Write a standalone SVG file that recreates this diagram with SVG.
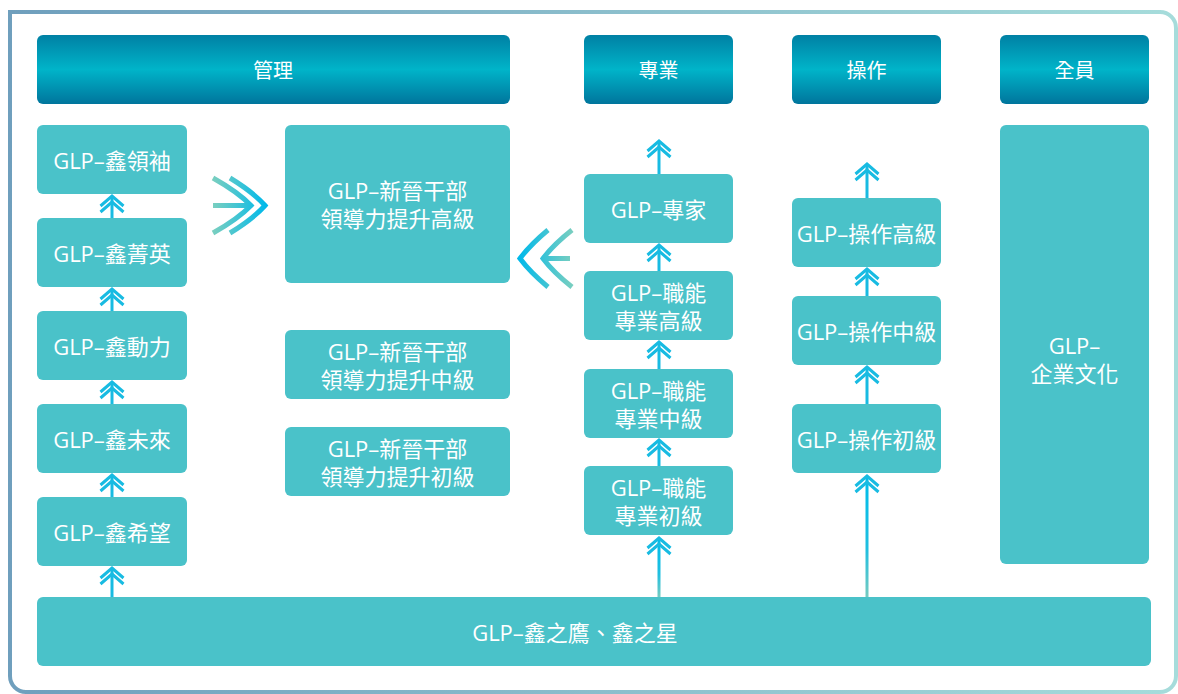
<svg xmlns="http://www.w3.org/2000/svg" xmlns:xlink="http://www.w3.org/1999/xlink" width="1178" height="694" viewBox="0 0 1178 694">
<defs>
<style>
.node{fill:#4ac2c9}
.t{fill:#fff;font-family:"Open Sans","Noto Sans CJK TC",sans-serif;font-size:22px;text-anchor:middle;dominant-baseline:central}
.h{fill:#fff;font-family:"Noto Sans CJK TC",sans-serif;font-size:20px;text-anchor:middle;dominant-baseline:central}
.stem{stroke:#18bbe2;stroke-width:3;fill:none}
.chev{stroke:#18bbe2;stroke-width:3;fill:none}
.big{fill:none;stroke-width:5}
</style>
<linearGradient id="frame" x1="0" y1="0" x2="1" y2="0">
<stop offset="0" stop-color="#6f9fbd"/>
<stop offset="1" stop-color="#a6dcdb"/>
</linearGradient>
<linearGradient id="head" x1="0" y1="0" x2="0" y2="1">
<stop offset="0" stop-color="#0080a4"/>
<stop offset="0.5" stop-color="#00b4c9"/>
<stop offset="1" stop-color="#00759c"/>
</linearGradient>
<linearGradient id="rgt" x1="212" y1="0" x2="266" y2="0" gradientUnits="userSpaceOnUse">
<stop offset="0" stop-color="#7ccfbf"/>
<stop offset="1" stop-color="#00b9ea"/>
</linearGradient>
<linearGradient id="lft" x1="574" y1="0" x2="519" y2="0" gradientUnits="userSpaceOnUse">
<stop offset="0" stop-color="#7ccfbf"/>
<stop offset="1" stop-color="#00b9ea"/>
</linearGradient>
<linearGradient id="vg" x1="0" y1="0" x2="0" y2="1">
<stop offset="0" stop-color="#00bdea"/>
<stop offset="0.6" stop-color="#20bfe0"/>
<stop offset="1" stop-color="#76cbc0"/>
</linearGradient>
<path id="ch" d="M-11.5,10 L0,0 L11.5,10 M-11.5,16 L0,6 L11.5,16" class="chev"/>
</defs>

<path d="M10,12 H1160 A16,16 0 0 1 1176,28 V676 A16,16 0 0 1 1160,692 H26 A16,16 0 0 1 10,676 Z" fill="#fff" stroke="url(#frame)" stroke-width="4"/>

<g id="headers">
<g id="h-mgmt"><rect x="37" y="35" width="473" height="69" rx="6" fill="url(#head)"/><text class="h" x="273" y="69">管理</text></g>
<g id="h-pro"><rect x="584" y="35" width="149" height="69" rx="6" fill="url(#head)"/><text class="h" x="658.5" y="69">專業</text></g>
<g id="h-op"><rect x="792" y="35" width="149" height="69" rx="6" fill="url(#head)"/><text class="h" x="866.5" y="69">操作</text></g>
<g id="h-all"><rect x="1000" y="35" width="149" height="69" rx="6" fill="url(#head)"/><text class="h" x="1074.5" y="69">全員</text></g>
</g>

<g id="connectors">
<line class="stem" x1="112" y1="198" x2="112" y2="218"/><use href="#ch" x="112" y="196"/>
<line class="stem" x1="112" y1="291" x2="112" y2="311"/><use href="#ch" x="112" y="289"/>
<line class="stem" x1="112" y1="384" x2="112" y2="404"/><use href="#ch" x="112" y="382"/>
<line class="stem" x1="112" y1="477" x2="112" y2="497"/><use href="#ch" x="112" y="475"/>
<line class="stem" x1="112" y1="570" x2="112" y2="597"/><use href="#ch" x="112" y="568"/>

<line class="stem" x1="659" y1="143" x2="659" y2="174"/><use href="#ch" x="659" y="141"/>
<line class="stem" x1="659" y1="247" x2="659" y2="271"/><use href="#ch" x="659" y="245"/>
<line class="stem" x1="659" y1="344" x2="659" y2="369"/><use href="#ch" x="659" y="342"/>
<line class="stem" x1="659" y1="442" x2="659" y2="466"/><use href="#ch" x="659" y="440"/>
<rect x="657.5" y="540" width="3" height="57" fill="url(#vg)"/><use href="#ch" x="659" y="538"/>

<line class="stem" x1="867" y1="166" x2="867" y2="198"/><use href="#ch" x="867" y="164"/>
<line class="stem" x1="867" y1="271" x2="867" y2="296"/><use href="#ch" x="867" y="269"/>
<line class="stem" x1="867" y1="369" x2="867" y2="404"/><use href="#ch" x="867" y="367"/>
<rect x="865.5" y="478" width="3" height="119" fill="url(#vg)"/><use href="#ch" x="867" y="476"/>

<g id="bigR" class="big" stroke="url(#rgt)">
<line x1="213" y1="205.5" x2="250" y2="205.5"/>
<path d="M213,178 Q238,192 251,205.5 Q238,219 213,233"/>
<path d="M230,178 Q253,192 265,205.5 Q253,219 230,233"/>
</g>
<g id="bigL" class="big" stroke="url(#lft)">
<line x1="570" y1="258.5" x2="543" y2="258.5"/>
<path d="M548,230 Q530,245 520,258.5 Q530,272 548,287"/>
<path d="M572,230 Q553,245 543,258.5 Q553,272 572,287"/>
</g>
</g>

<g id="n-lead"><rect class="node" x="37" y="125" width="150" height="69" rx="6"/><text class="t" x="112" y="159.5">GLP–鑫領袖</text></g>
<g id="n-elite"><rect class="node" x="37" y="218" width="150" height="69" rx="6"/><text class="t" x="112" y="252.5">GLP–鑫菁英</text></g>
<g id="n-power"><rect class="node" x="37" y="311" width="150" height="69" rx="6"/><text class="t" x="112" y="345.5">GLP–鑫動力</text></g>
<g id="n-future"><rect class="node" x="37" y="404" width="150" height="69" rx="6"/><text class="t" x="112" y="438.5">GLP–鑫未來</text></g>
<g id="n-hope"><rect class="node" x="37" y="497" width="150" height="69" rx="6"/><text class="t" x="112" y="531.5">GLP–鑫希望</text></g>

<g id="n-new-hi"><rect class="node" x="285" y="125" width="225" height="158" rx="6"/><text class="t" x="397.5" y="189.5">GLP–新晉干部</text><text class="t" x="397.5" y="217.5">領導力提升高級</text></g>
<g id="n-new-mid"><rect class="node" x="285" y="330" width="225" height="69" rx="6"/><text class="t" x="397.5" y="350.5">GLP–新晉干部</text><text class="t" x="397.5" y="378.5">領導力提升中級</text></g>
<g id="n-new-lo"><rect class="node" x="285" y="427" width="225" height="69" rx="6"/><text class="t" x="397.5" y="447.5">GLP–新晉干部</text><text class="t" x="397.5" y="475.5">領導力提升初級</text></g>

<g id="n-expert"><rect class="node" x="584" y="174" width="149" height="69" rx="6"/><text class="t" x="658.5" y="208.5">GLP–專家</text></g>
<g id="n-pro-hi"><rect class="node" x="584" y="271" width="149" height="69" rx="6"/><text class="t" x="658.5" y="291.5">GLP–職能</text><text class="t" x="658.5" y="319.5">專業高級</text></g>
<g id="n-pro-mid"><rect class="node" x="584" y="369" width="149" height="69" rx="6"/><text class="t" x="658.5" y="389.5">GLP–職能</text><text class="t" x="658.5" y="417.5">專業中級</text></g>
<g id="n-pro-lo"><rect class="node" x="584" y="466" width="149" height="69" rx="6"/><text class="t" x="658.5" y="486.5">GLP–職能</text><text class="t" x="658.5" y="514.5">專業初級</text></g>

<g id="n-op-hi"><rect class="node" x="792" y="198" width="149" height="69" rx="6"/><text class="t" x="866.5" y="232.5">GLP–操作高級</text></g>
<g id="n-op-mid"><rect class="node" x="792" y="296" width="149" height="69" rx="6"/><text class="t" x="866.5" y="330.5">GLP–操作中級</text></g>
<g id="n-op-lo"><rect class="node" x="792" y="404" width="149" height="69" rx="6"/><text class="t" x="866.5" y="438.5">GLP–操作初級</text></g>

<g id="n-culture"><rect class="node" x="1000" y="125" width="149" height="439" rx="6"/><text class="t" x="1074.5" y="344.5">GLP–</text><text class="t" x="1074.5" y="372.5">企業文化</text></g>

<g id="n-base"><rect class="node" x="37" y="597" width="1114" height="69" rx="6"/><text class="t" x="575" y="632">GLP–鑫之鷹、鑫之星</text></g>
</svg>
